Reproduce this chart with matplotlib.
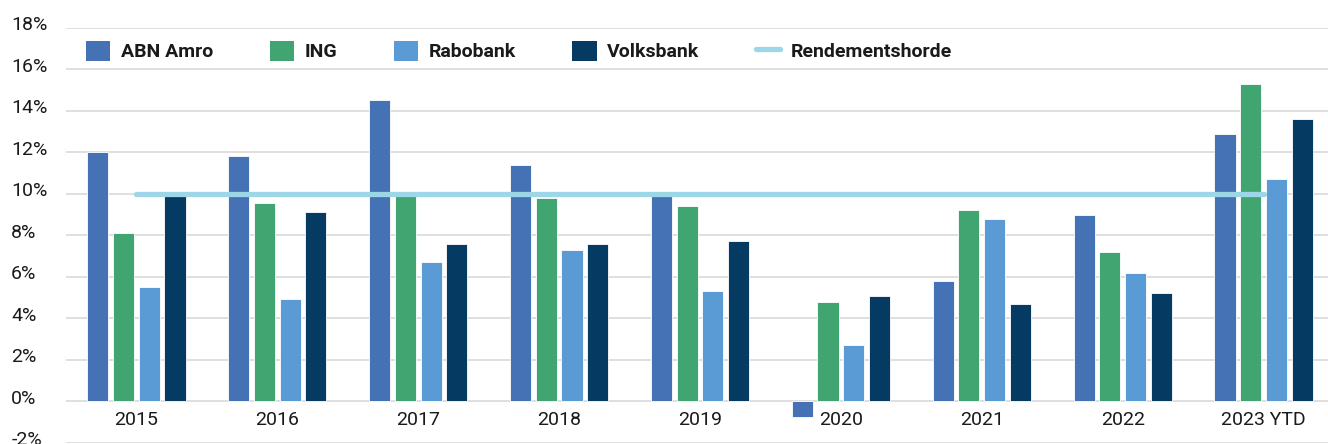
import numpy as np
import matplotlib
matplotlib.use("Agg")
import matplotlib.pyplot as plt
import matplotlib.transforms as mtransforms
from matplotlib.lines import Line2D
from matplotlib.patches import Patch

categories = ["2015", "2016", "2017", "2018", "2019", "2020", "2021", "2022", "2023 YTD"]
abn_amro = [12.0, 11.8, 14.55, 11.4, 9.9, -0.75, 5.8, 9.0, 12.9]
ing = [8.1, 9.55, 9.9, 9.8, 9.4, 4.8, 9.2, 7.2, 15.3]
rabobank = [5.5, 4.9, 6.7, 7.3, 5.3, 2.7, 8.8, 6.2, 10.7]
volksbank = [9.9, 9.1, 7.6, 7.6, 7.7, 5.05, 4.7, 5.2, 13.6]
rendementshorde = [10.0] * len(categories)
series_names = ["ABN Amro", "ING", "Rabobank", "Volksbank"]
yticks = [-2, 0, 2, 4, 6, 8, 10, 12, 14, 16, 18]

colors = ["#4571b5", "#41a572", "#5b9bd5", "#053a63"]
line_color = "#9dd6e6"
text_color = "#1a1a1a"

plt.rcParams['font.family'] = ['Roboto', 'DejaVu Sans']

fig = plt.figure(figsize=(13.28, 4.44), dpi=100)
W, H = 1328, 444
left_px, right_px = 66, 1334
top_px, bottom_px = 28, 442.5
ax = fig.add_axes([left_px / W, (H - bottom_px) / H, (right_px - left_px) / W, (bottom_px - top_px) / H])

x = np.arange(len(categories))
step = 0.1824
width = 0.15
data = [abn_amro, ing, rabobank, volksbank]
for i, (vals, c) in enumerate(zip(data, colors)):
    ax.bar(x + (i - 1.5) * step, vals, width=width, color=c, edgecolor="white",
           linewidth=0.6, zorder=2)

ax.plot(x, rendementshorde, color=line_color, lw=3.8, solid_capstyle="round", zorder=3)

ax.set_xlim(-0.5, len(categories) - 0.5)
ax.set_ylim(-2, 18)
ax.set_yticks(yticks)
ax.set_yticklabels([f"{v}%" for v in yticks])
ax.grid(axis="y", color="#d9d9d9", linewidth=1.2)
ax.set_axisbelow(True)
for s in ax.spines.values():
    s.set_visible(False)
ax.spines['bottom'].set_position(('data', 0))
ax.set_xticks(x)
ax.set_xticklabels(categories)
ax.tick_params(axis="x", length=0, pad=7, labelsize=14, labelcolor=text_color)
ax.tick_params(axis="y", length=0, pad=39.5, labelsize=14, labelcolor=text_color)
offset = mtransforms.ScaledTranslation(0, 4.5 / 100, fig.dpi_scale_trans)
for lab in ax.get_yticklabels():
    lab.set_horizontalalignment("left")
    lab.set_transform(lab.get_transform() + offset)

handles = [Patch(facecolor=c, edgecolor="none") for c in colors]
handles.append(Line2D([0], [0], color=line_color, lw=3.8, solid_capstyle="round"))
labels = series_names + ["Rendementshorde"]
leg = fig.legend(handles, labels, ncol=5, loc="center left",
                 bbox_to_anchor=(86 / W, (H - 51) / H), frameon=False,
                 prop={"weight": "bold", "size": 14}, handlelength=1.25,
                 handleheight=1.2, handletextpad=0.55, columnspacing=2.9,
                 borderpad=0, borderaxespad=0)
for t in leg.get_texts():
    t.set_color(text_color)

fig.savefig("out.png", dpi=100, facecolor="white")
